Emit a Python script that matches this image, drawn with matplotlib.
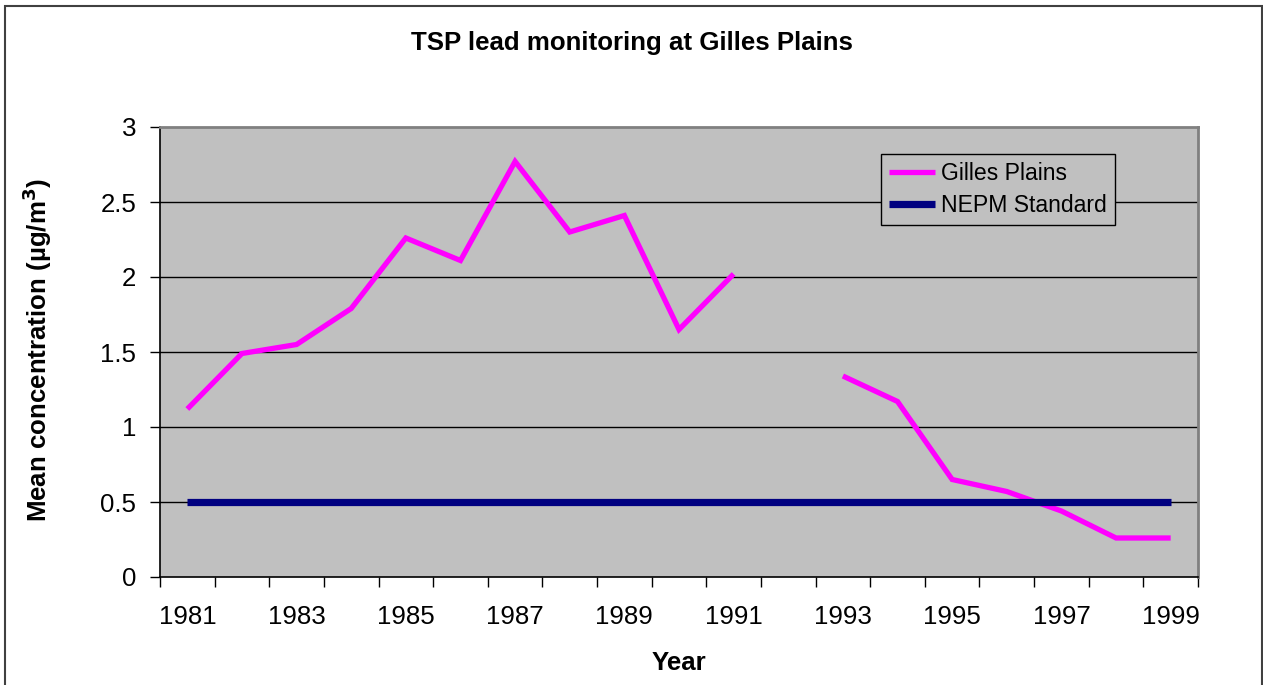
import numpy as np
import matplotlib
matplotlib.use('Agg')
import matplotlib.pyplot as plt
from matplotlib.patches import Rectangle

# Annual mean TSP lead at Gilles Plains (no data for 1992)
years = list(range(1981, 2000))
gilles = [1.12, 1.49, 1.55, 1.79, 2.26, 2.11, 2.77, 2.30, 2.41, 1.65,
          2.02, np.nan, 1.34, 1.17, 0.65, 0.57, 0.44, 0.26, 0.26]
nepm = [0.5] * len(years)

plt.rcParams['font.family'] = ['Liberation Sans', 'DejaVu Sans']
fs = 18.6

fig = plt.figure(figsize=(12.63, 6.85), dpi=100)
ax = fig.add_axes([160/1263, 1 - 577/685, 1038/1263, 450/685])
ax.set_facecolor('#c0c0c0')

x = np.arange(len(years))
ax.plot(x, gilles, color='#ff00ff', lw=3.8, solid_capstyle='butt',
        solid_joinstyle='miter', label='Gilles Plains', zorder=3)
ax.plot(x, nepm, color='#000080', lw=5.2, solid_capstyle='butt',
        label='NEPM Standard', zorder=4)

ax.set_xlim(-0.5, len(years) - 0.5)
ax.set_ylim(0, 3)

# category boundaries get the tick marks, every other year gets a label
ax.set_xticks(np.arange(-0.5, len(years), 1))
ax.set_xticklabels([])
ax.set_xticks(x[::2], minor=True)
ax.set_xticklabels([str(y) for y in years[::2]], minor=True, fontsize=fs)
ax.tick_params(axis='x', which='major', direction='out', length=7,
               width=1, color='black')
ax.tick_params(axis='x', which='minor', length=0, pad=20)

yt = np.arange(0, 3.01, 0.5)
ax.set_yticks(yt)
ax.set_yticklabels(['0', '0.5', '1', '1.5', '2', '2.5', '3'], fontsize=fs)
ax.tick_params(axis='y', direction='out', length=7, width=1, pad=10)

for v in yt[1:-1]:
    ax.axhline(v, color='black', lw=1.0, zorder=1)

for s in ['left', 'bottom']:
    ax.spines[s].set_color('black')
    ax.spines[s].set_linewidth(1.2)
for s in ['top', 'right']:
    ax.spines[s].set_color('#808080')
    ax.spines[s].set_linewidth(2)

ax.set_xlabel('Year', fontsize=fs, fontweight='bold', labelpad=16)
fig.text(37/1263, 1 - 350/685, 'Mean concentration (\u00b5g/m$^\\mathbf{3}$)',
         rotation=90, ha='center', va='center', fontsize=fs, fontweight='bold')
fig.text(0.5, 1 - 43/685, 'TSP lead monitoring at Gilles Plains',
         ha='center', va='center', fontsize=fs, fontweight='bold')

leg = ax.legend(loc='upper left', bbox_to_anchor=(721/1038, 423/450),
                borderaxespad=0, fontsize=16.6, fancybox=False,
                facecolor='#c0c0c0', edgecolor='black', framealpha=1,
                handlelength=2.0, handletextpad=0.25, borderpad=0.35,
                labelspacing=0.4)
leg.get_frame().set_linewidth(1.0)

# outer chart border
fig.patches.append(Rectangle((5/1263, -0.02), 1256.5/1263, 1.02 - 6/685,
                             transform=fig.transFigure, fill=False,
                             edgecolor='#404040', lw=1.5))

fig.savefig('out.png', dpi=100)
